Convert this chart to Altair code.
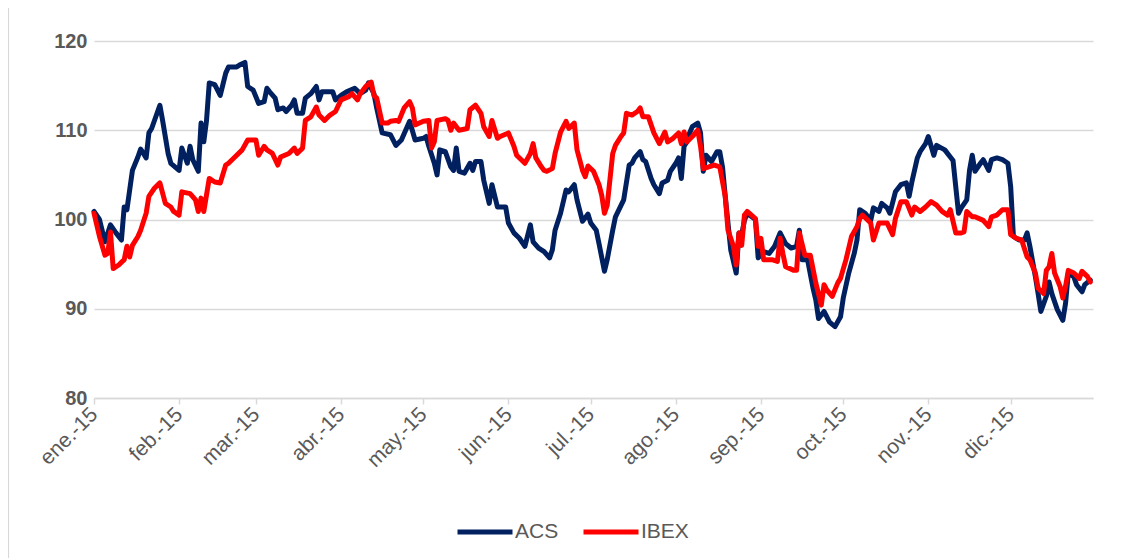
import altair as alt
import pandas as pd

# Day offset from 1 Jan 2015 and index value
acs_day = [0, 2, 4, 6, 8, 10, 11, 12, 14, 16, 17, 19, 20, 21, 24, 25, 27, 28, 31, 32,
           34, 35, 36, 38, 39, 40, 41, 42, 44, 46, 48, 49, 52, 53, 55, 56, 58, 60, 62, 63,
           64, 66, 67, 69, 70, 72, 73, 74, 76, 77, 79, 81, 82, 83, 87, 88, 90, 92, 95, 97,
           99, 100, 102, 103, 105, 108, 110, 112, 115, 117, 120, 121, 122, 124, 125, 126, 128, 130, 131, 132,
           133, 135, 137, 138, 139, 141, 142, 144, 145, 147, 150, 151, 153, 155, 157, 159, 160, 162, 164, 166,
           167, 168, 170, 172, 173, 175, 176, 178, 179, 180, 181, 183, 184, 186, 187, 189, 190, 193, 195, 196,
           197, 199, 200, 201, 203, 204, 206, 207, 209, 210, 212, 213, 214, 215, 216, 217, 218, 220, 221, 222,
           223, 225, 227, 228, 229, 230, 232, 234, 235, 236, 237, 238, 241, 242, 244, 246, 248, 250, 252, 254,
           256, 257, 258, 260, 262, 263, 264, 266, 268, 270, 272, 273, 275, 277, 278, 279, 281, 283, 284, 286,
           287, 289, 290, 292, 294, 296, 297, 298, 300, 301, 303, 304, 306, 307, 310, 312, 313, 315, 316, 318,
           319, 320, 321, 323, 324, 326, 327, 329, 331, 333, 334, 335, 337, 339, 340, 341, 343, 344, 345, 347,
           348, 349, 351, 353, 354, 355, 357, 358, 360, 361, 363]
acs_val = [100.9, 100.0, 97.5, 99.4, 98.5, 97.7, 101.4, 101.1, 105.5, 107.0, 107.9, 106.9, 109.7, 110.2, 112.8, 111.1, 107.4, 106.3, 105.5, 108.0,
           106.3, 108.2, 106.7, 105.4, 110.8, 108.7, 111.1, 115.3, 115.1, 113.9, 116.4, 117.1, 117.1, 117.3, 117.6, 114.9, 114.5, 113.0, 113.2, 114.7,
           114.3, 113.6, 112.3, 112.5, 112.1, 112.8, 113.4, 111.9, 111.9, 113.6, 114.1, 114.9, 113.4, 114.3, 114.3, 113.4, 113.9, 114.3, 114.7, 114.1,
           114.5, 115.3, 114.1, 112.5, 109.7, 109.5, 108.3, 108.9, 111.0, 108.9, 109.1, 109.3, 108.2, 106.3, 105.0, 107.8, 107.6, 105.9, 105.5, 108.0,
           105.4, 105.2, 106.3, 105.5, 106.5, 106.5, 104.4, 101.8, 103.9, 101.4, 101.4, 99.6, 98.5, 97.9, 97.0, 99.4, 97.5, 96.8, 96.4, 95.7,
           96.6, 98.8, 100.7, 103.3, 103.1, 103.9, 102.2, 99.8, 100.2, 100.6, 99.6, 98.8, 97.3, 94.2, 95.5, 98.8, 100.3, 102.2, 106.1, 106.3,
           106.9, 107.6, 106.7, 106.5, 104.6, 103.9, 102.9, 104.1, 104.4, 105.4, 106.3, 106.9, 104.6, 108.2, 108.7, 109.7, 110.4, 110.8, 109.7, 105.4,
           107.2, 106.5, 107.6, 107.6, 105.9, 102.6, 96.6, 94.0, 98.5, 98.3, 99.9, 100.7, 100.0, 95.7, 96.4, 96.2, 97.0, 98.5, 97.3, 96.8,
           97.0, 98.8, 95.5, 95.5, 92.3, 91.0, 88.9, 89.7, 88.5, 88.0, 89.1, 91.2, 94.0, 96.2, 97.7, 101.1, 100.7, 99.9, 101.3, 100.9,
           101.8, 101.3, 100.7, 103.1, 103.9, 104.1, 102.6, 104.2, 106.9, 107.6, 108.5, 109.3, 107.2, 108.3, 107.8, 107.0, 106.6, 100.7, 101.3, 102.2,
           105.5, 107.2, 105.4, 106.3, 106.7, 105.5, 106.7, 106.9, 106.7, 106.3, 103.7, 98.1, 97.7, 97.7, 98.5, 97.0, 93.6, 91.7, 89.7, 91.4,
           93.0, 91.7, 89.9, 88.7, 90.6, 94.0, 93.6, 92.7, 91.9, 92.7, 93.2]

ibex_day = [0, 2, 4, 5, 6, 7, 9, 11, 12, 13, 14, 16, 17, 19, 20, 22, 24, 26, 28, 29,
            31, 32, 35, 37, 38, 39, 40, 42, 44, 46, 48, 49, 52, 54, 56, 59, 60, 62, 63, 65,
            67, 68, 71, 73, 74, 76, 77, 79, 81, 82, 84, 86, 88, 90, 93, 94, 96, 97, 99, 101,
            102, 103, 105, 107, 108, 110, 111, 113, 115, 116, 117, 120, 122, 123, 124, 125, 128, 129, 130, 131,
            133, 136, 137, 139, 141, 142, 144, 145, 147, 148, 151, 153, 154, 157, 159, 160, 161, 163, 164, 165,
            167, 168, 170, 172, 173, 175, 176, 178, 179, 180, 182, 184, 185, 186, 187, 189, 190, 192, 193, 194,
            196, 198, 199, 200, 202, 204, 206, 208, 209, 211, 213, 214, 215, 216, 218, 220, 221, 222, 224, 226,
            228, 230, 231, 233, 234, 235, 236, 237, 238, 241, 242, 243, 244, 247, 249, 250, 251, 252, 255, 256,
            257, 259, 261, 263, 265, 266, 267, 269, 271, 272, 274, 276, 278, 279, 280, 283, 284, 286, 289, 291,
            292, 294, 296, 298, 299, 301, 303, 305, 307, 309, 311, 312, 314, 316, 317, 318, 320, 321, 324, 326,
            327, 329, 331, 333, 334, 336, 338, 340, 341, 343, 344, 346, 347, 348, 349, 350, 352, 353, 354, 355,
            357, 359, 360, 362, 363]
ibex_val = [100.7, 98.1, 96.0, 96.2, 98.6, 94.5, 94.9, 95.5, 97.0, 95.8, 97.1, 98.1, 98.8, 100.7, 102.6, 103.5, 104.1, 101.8, 101.4, 100.9,
            100.5, 103.1, 102.9, 102.2, 100.9, 102.4, 100.9, 104.6, 104.2, 104.1, 106.1, 106.3, 107.2, 107.8, 108.9, 108.9, 107.2, 108.2, 107.8, 107.4,
            106.1, 107.0, 107.4, 108.0, 107.4, 108.0, 111.1, 111.5, 112.6, 111.7, 111.1, 111.7, 112.1, 113.4, 113.8, 114.1, 113.4, 114.1, 114.9, 115.4,
            113.9, 113.6, 110.8, 110.8, 111.0, 111.1, 111.0, 112.5, 113.2, 112.5, 110.6, 111.0, 111.1, 108.0, 108.7, 111.1, 111.3, 111.1, 110.0, 110.8,
            110.0, 110.2, 112.3, 112.8, 111.9, 110.4, 109.3, 111.1, 109.1, 109.3, 109.7, 108.2, 107.2, 106.3, 107.4, 108.5, 106.9, 105.9, 105.5, 105.4,
            105.7, 107.4, 109.8, 111.0, 110.2, 110.8, 107.8, 105.5, 104.8, 106.0, 105.4, 103.9, 102.7, 100.7, 101.6, 107.4, 108.3, 109.3, 109.7, 111.9,
            111.7, 112.1, 112.5, 111.5, 111.5, 109.7, 108.5, 109.8, 108.7, 109.1, 109.7, 108.5, 109.8, 108.7, 109.3, 110.0, 108.2, 105.7, 105.9, 106.1,
            105.9, 102.6, 98.8, 97.0, 94.9, 98.5, 97.1, 100.5, 100.9, 100.1, 97.0, 97.9, 95.5, 95.5, 95.3, 97.9, 96.2, 94.7, 94.3, 94.3,
            98.5, 96.0, 96.0, 92.9, 90.4, 92.7, 92.1, 91.4, 92.9, 93.4, 95.5, 98.1, 99.2, 100.1, 100.5, 99.6, 97.7, 99.6, 99.6, 98.3,
            100.1, 102.0, 102.0, 100.5, 101.4, 100.9, 101.4, 102.0, 101.6, 100.9, 100.5, 101.1, 98.5, 98.5, 98.6, 100.9, 100.3, 100.3, 99.9, 99.2,
            100.3, 100.5, 101.1, 101.1, 98.3, 97.9, 97.7, 95.8, 95.5, 94.0, 92.3, 91.7, 94.3, 94.7, 96.2, 94.0, 92.5, 91.2, 92.5, 94.3,
            94.0, 93.4, 94.2, 93.6, 93.0]

series_names = ["ACS", "IBEX"]
series_colors = ["#002060", "#FF0000"]
month_labels = ["ene.-15", "feb.-15", "mar.-15", "abr.-15", "may.-15", "jun.-15",
                "jul.-15", "ago.-15", "sep.-15", "oct.-15", "nov.-15", "dic.-15"]
y_ticks = [80, 90, 100, 110, 120]

base = pd.Timestamp("2015-01-01")


def make(days, vals, name):
    return pd.DataFrame({
        "fecha": [(base + pd.Timedelta(days=d)).strftime("%Y-%m-%dT00:00:00") for d in days],
        "valor": vals,
        "serie": name,
    })


df = pd.concat([make(acs_day, acs_val, "ACS"), make(ibex_day, ibex_val, "IBEX")], ignore_index=True)

label_expr = "[" + ",".join("'" + m + "'" for m in month_labels) + "][month(datum.value)]"

lines = alt.Chart(df).mark_line(strokeWidth=5, strokeJoin="round", strokeCap="round").encode(
    x=alt.X(
        "fecha:T",
        scale=alt.Scale(domain=[alt.DateTime(year=2015, month=1, date=1),
                                alt.DateTime(year=2015, month=12, date=31)]),
        axis=alt.Axis(
            values=[alt.DateTime(year=2015, month=m, date=1) for m in range(1, 13)],
            labelExpr=label_expr,
            title=None,
            grid=False,
            labelAngle=315,
            labelAlign="right",
            labelBaseline="middle",
            labelFontSize=21,
            labelColor="#595959",
            labelPadding=7,
            domainColor="#D9D9D9",
            domainWidth=1.5,
            tickColor="#D9D9D9",
            tickWidth=1.5,
            tickSize=6,
        ),
    ),
    y=alt.Y(
        "valor:Q",
        scale=alt.Scale(domain=[80, 120], nice=False, zero=False),
        axis=alt.Axis(
            values=y_ticks,
            title=None,
            domain=False,
            ticks=False,
            grid=True,
            gridColor="#D9D9D9",
            gridWidth=1.5,
            labelFontSize=20,
            labelFontWeight="bold",
            labelColor="#595959",
            labelPadding=7,
        ),
    ),
    color=alt.Color(
        "serie:N",
        scale=alt.Scale(domain=series_names, range=series_colors),
        legend=alt.Legend(
            orient="none",
            legendX=361,
            legendY=461,
            direction="horizontal",
            columns=2,
            title=None,
            symbolType="stroke",
            symbolSize=3025,
            symbolStrokeWidth=5,
            labelFontSize=21,
            labelColor="#595959",
            labelOffset=0,
            columnPadding=14,
        ),
    ),
)

frame_edge = alt.Chart(pd.DataFrame({"edge": [0]})).mark_rule(
    color="#D9D9D9", strokeWidth=1.2
).encode(x=alt.value(-85.5), y=alt.value(-33), y2=alt.value(517))

chart = alt.layer(frame_edge, lines).properties(
    width=999,
    height=357,
    autosize="none",
    padding={"left": 86, "top": 33, "right": 25, "bottom": 160},
).configure(
    font="Liberation Sans",
).configure_view(stroke=None)

chart.save("out.html", embed_options={"renderer": "svg", "actions": False})
